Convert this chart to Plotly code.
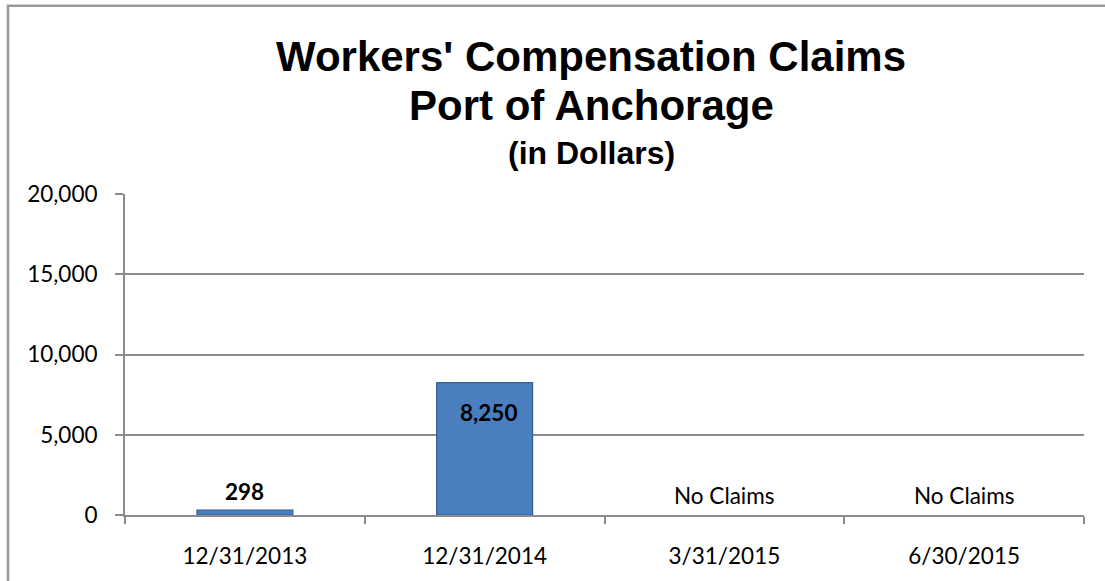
import plotly.graph_objects as go

categories = ["12/31/2013", "12/31/2014", "3/31/2015", "6/30/2015"]
values = [298, 8250, 0, 0]
value_labels = ["298", "8,250", "No Claims", "No Claims"]
y_ticks = [0, 5000, 10000, 15000, 20000]
y_tick_text = ["0", "5,000", "10,000", "15,000", "20,000"]

GRID = "#8c8c8c"
TICKFONT = dict(family="Lato, Carlito, Calibri, sans-serif", size=22.5, color="#000000")

fig = go.Figure()
fig.add_trace(go.Bar(
    x=categories, y=values, width=0.4,
    marker=dict(color="#4a7ebf",
                line=dict(color="#2f5f97", width=[1.2 if v > 0 else 0 for v in values])),
    hoverinfo="x+y", showlegend=False,
))

# value labels
for c, v, t in zip(categories, values, value_labels):
    if t == "No Claims":
        fig.add_annotation(x=c, y=v, text=t, showarrow=False, yanchor="bottom",
                           yshift=4, font=TICKFONT)
    elif v > 2000:
        fig.add_annotation(x=c, y=v, text="<b>" + t + "</b>", showarrow=False,
                           yanchor="top", yshift=-14, xshift=4, font=TICKFONT)
    else:
        fig.add_annotation(x=c, y=v, text="<b>" + t + "</b>", showarrow=False,
                           yanchor="bottom", yshift=3, font=TICKFONT)

TF = "Liberation Sans, Arial, sans-serif"
fig.add_annotation(xref="paper", yref="paper", x=0.486, y=1.429, yanchor="middle",
                   text="<b>Workers' Compensation Claims</b>", showarrow=False,
                   font=dict(family=TF, size=42, color="#000"))
fig.add_annotation(xref="paper", yref="paper", x=0.486, y=1.275, yanchor="middle",
                   text="<b>Port of Anchorage</b>", showarrow=False,
                   font=dict(family=TF, size=42, color="#000"))
fig.add_annotation(xref="paper", yref="paper", x=0.486, y=1.127, yanchor="middle",
                   text="<b>(in Dollars)</b>", showarrow=False,
                   font=dict(family=TF, size=32, color="#000"))

# outer chart border
fig.add_shape(type="rect", xref="paper", yref="paper",
              x0=(8 - 125) / 959, x1=1.1, y0=-0.4, y1=(518 - 4) / 324,
              line=dict(color="#999999", width=2.5), fillcolor="rgba(0,0,0,0)", layer="below")

fig.update_layout(
    width=1105, height=581,
    margin=dict(l=125, r=21, t=194, b=63),
    paper_bgcolor="white", plot_bgcolor="white",
    xaxis=dict(showline=True, linecolor=GRID, linewidth=2, ticks="outside",
               tickson="boundaries", ticklen=7, tickcolor=GRID, tickwidth=1.5,
               tickfont=TICKFONT, ticklabelstandoff=20, showgrid=False, zeroline=False),
    yaxis=dict(range=[0, 20000], tickvals=y_ticks, ticktext=y_tick_text,
               showline=True, linecolor=GRID, linewidth=2, ticks="outside",
               ticklen=8, tickcolor=GRID, tickwidth=1.5, tickfont=TICKFONT,
               ticklabelstandoff=13, showgrid=True, gridcolor=GRID, gridwidth=1.5,
               zeroline=False),
)

fig.write_html("out.html", config={"displayModeBar": False},
               post_script="document.body.style.margin='0px';document.body.style.overflow='hidden';")
